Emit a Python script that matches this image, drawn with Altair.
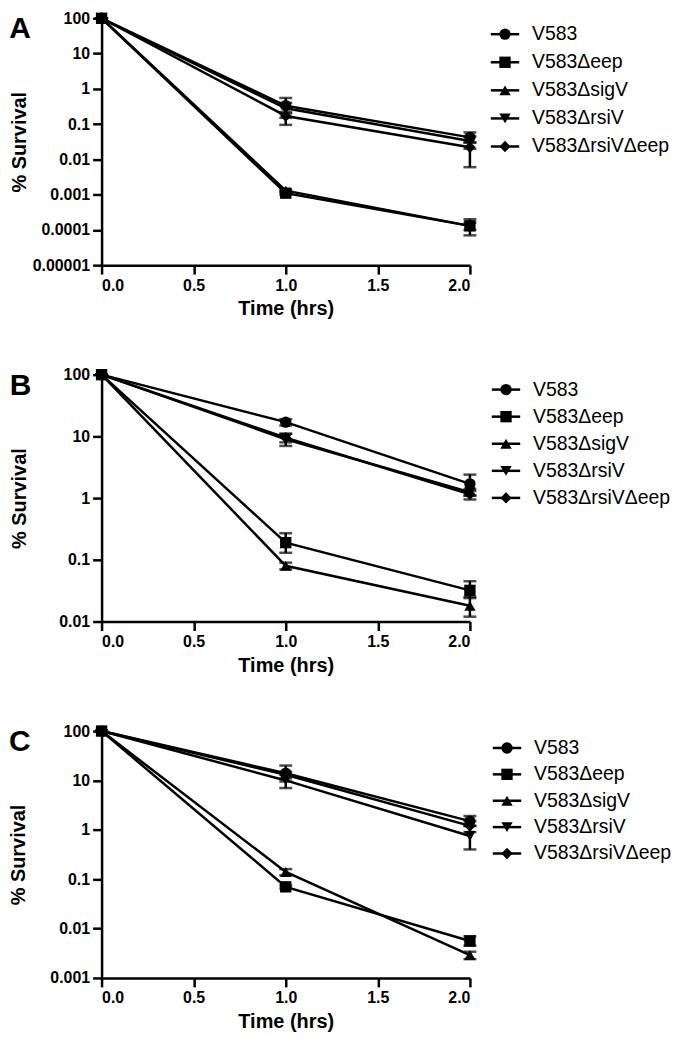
import altair as alt
import pandas as pd

STRAINS = ["V583", "V583Δeep", "V583ΔsigV", "V583ΔrsiV", "V583ΔrsiVΔeep"]
SHAPES = ["circle", "square", "triangle-up", "triangle-down", "diamond"]
TIME = [0.0, 1.0, 2.0]

# Panel A: mean % survival, lower / upper error bounds
A_MEAN = {
    "V583": [100, 0.33, 0.042],
    "V583Δeep": [100, 0.0011, 0.00013],
    "V583ΔsigV": [100, 0.0013, 0.00013],
    "V583ΔrsiV": [100, 0.28, 0.033],
    "V583ΔrsiVΔeep": [100, 0.17, 0.022],
}
A_LO = {
    "V583": [100, 0.2, 0.03],
    "V583Δeep": [100, 0.001, 0.00007],
    "V583ΔsigV": [100, 0.0012, 0.0001],
    "V583ΔrsiV": [100, 0.15, 0.02],
    "V583ΔrsiVΔeep": [100, 0.095, 0.006],
}
A_HI = {
    "V583": [100, 0.55, 0.058],
    "V583Δeep": [100, 0.0012, 0.0002],
    "V583ΔsigV": [100, 0.0014, 0.00016],
    "V583ΔrsiV": [100, 0.4, 0.045],
    "V583ΔrsiVΔeep": [100, 0.22, 0.03],
}

# Panel B
B_MEAN = {
    "V583": [100, 17, 1.7],
    "V583Δeep": [100, 0.19, 0.032],
    "V583ΔsigV": [100, 0.08, 0.018],
    "V583ΔrsiV": [100, 9.0, 1.25],
    "V583ΔrsiVΔeep": [100, 9.5, 1.15],
}
B_LO = {
    "V583": [100, 15, 1.1],
    "V583Δeep": [100, 0.13, 0.024],
    "V583ΔsigV": [100, 0.07, 0.012],
    "V583ΔrsiV": [100, 7.0, 1.1],
    "V583ΔrsiVΔeep": [100, 8.0, 0.95],
}
B_HI = {
    "V583": [100, 19, 2.4],
    "V583Δeep": [100, 0.27, 0.045],
    "V583ΔsigV": [100, 0.09, 0.025],
    "V583ΔrsiV": [100, 11, 1.4],
    "V583ΔrsiVΔeep": [100, 11, 1.3],
}

# Panel C
C_MEAN = {
    "V583": [100, 14, 1.5],
    "V583Δeep": [100, 0.07, 0.0056],
    "V583ΔsigV": [100, 0.14, 0.0029],
    "V583ΔrsiV": [100, 10, 0.75],
    "V583ΔrsiVΔeep": [100, 13, 1.2],
}
C_LO = {
    "V583": [100, 9.5, 1.2],
    "V583Δeep": [100, 0.065, 0.0045],
    "V583ΔsigV": [100, 0.12, 0.0024],
    "V583ΔrsiV": [100, 7.0, 0.4],
    "V583ΔrsiVΔeep": [100, 11, 0.9],
}
C_HI = {
    "V583": [100, 20, 1.9],
    "V583Δeep": [100, 0.075, 0.007],
    "V583ΔsigV": [100, 0.16, 0.0034],
    "V583ΔrsiV": [100, 13, 1.2],
    "V583ΔrsiVΔeep": [100, 15, 1.5],
}

A_TICKS = [0.00001, 0.0001, 0.001, 0.01, 0.1, 1, 10, 100]
B_TICKS = [0.01, 0.1, 1, 10, 100]
C_TICKS = [0.001, 0.01, 0.1, 1, 10, 100]
X_TICKS = [0.0, 0.5, 1.0, 1.5, 2.0]

FONT = "Liberation Sans"


def make_df(mean, lo, hi):
    rows = []
    for s in STRAINS:
        for i, t in enumerate(TIME):
            rows.append({"strain": s, "time": t, "mean": mean[s][i],
                         "lo": lo[s][i], "hi": hi[s][i]})
    return pd.DataFrame(rows)


def panel(letter, mean, lo, hi, ticks, title_pad):
    df = make_df(mean, lo, hi)
    xax = alt.Axis(values=X_TICKS, format=".1f", title="Time (hrs)", titlePadding=6)
    yax = alt.Axis(values=ticks, format=".5~f", title="% Survival", titlePadding=title_pad)
    xs = alt.Scale(domain=[0, 2], nice=False)
    ys = alt.Scale(type="log", domain=[ticks[0], ticks[-1]], nice=False)
    base = alt.Chart(df).encode(
        x=alt.X("time:Q", scale=xs, axis=xax),
    )
    line = base.mark_line(color="black", strokeWidth=2.5).encode(
        y=alt.Y("mean:Q", scale=ys, axis=yax), detail="strain:N")
    err = base.mark_rule(color="black", strokeWidth=2.5).encode(
        y=alt.Y("lo:Q"), y2="hi:Q")
    cap_lo = base.mark_tick(color="black", thickness=2.5, size=13, orient="horizontal").encode(
        y=alt.Y("lo:Q"))
    cap_hi = base.mark_tick(color="black", thickness=2.5, size=13, orient="horizontal").encode(
        y=alt.Y("hi:Q"))
    pts = base.mark_point(filled=True, color="black", size=130, opacity=1).encode(
        y=alt.Y("mean:Q"),
        shape=alt.Shape("strain:N", scale=alt.Scale(domain=STRAINS, range=SHAPES), legend=None),
    )
    return alt.layer(line, err, cap_lo, cap_hi, pts).properties(
        width=370, height=248,
        title=alt.Title(letter, anchor="start", frame="bounds", fontSize=30,
                        fontWeight="bold", font=FONT, color="black",
                        baseline="top", offset=-34),
    )


def legend(step, first):
    n = len(STRAINS)
    pad = first / step
    h = step * (n - 1 + 2 * pad)
    ldf = pd.DataFrame({"strain": STRAINS, "x0": [0] * n, "x1": [1] * n,
                        "xm": [0.5] * n, "xt": [1.45] * n})
    xs = alt.Scale(domain=[0, 5.26], nice=False)
    ys = alt.Scale(type="point", domain=STRAINS, padding=pad)
    b = alt.Chart(ldf).encode(y=alt.Y("strain:N", scale=ys, axis=None))
    r = b.mark_rule(color="black", strokeWidth=2.5).encode(
        x=alt.X("x0:Q", scale=xs, axis=None), x2="x1:Q")
    p = b.mark_point(filled=True, color="black", size=130, opacity=1).encode(
        x=alt.X("xm:Q", scale=xs, axis=None),
        shape=alt.Shape("strain:N", scale=alt.Scale(domain=STRAINS, range=SHAPES), legend=None))
    t = b.mark_text(align="left", baseline="middle", fontSize=19.5, font=FONT, color="black").encode(
        x=alt.X("xt:Q", scale=xs, axis=None), text="strain:N")
    return alt.layer(r, p, t).properties(width=150, height=h)


rowA = alt.hconcat(panel("A", A_MEAN, A_LO, A_HI, A_TICKS, 3), legend(28.2, 16), spacing=12)
rowB = alt.hconcat(panel("B", B_MEAN, B_LO, B_HI, B_TICKS, 29), legend(27.2, 15), spacing=13)
rowC = alt.hconcat(panel("C", C_MEAN, C_LO, C_HI, C_TICKS, 21), legend(26.5, 17), spacing=14)

chart = alt.vconcat(rowA, rowB, rowC, spacing=48, padding=0).configure_view(
    stroke=None
).configure_axis(
    domainColor="black", domainWidth=2.5, tickColor="black", tickWidth=2.5, tickSize=9,
    labelPadding=3, labelFont=FONT, labelFontSize=16, labelFontWeight="bold", labelColor="black",
    titleFont=FONT, titleFontSize=20, titleFontWeight="bold", titleColor="black", grid=False,
)

chart.save("out.html", embed_options={"renderer": "svg", "actions": False})
